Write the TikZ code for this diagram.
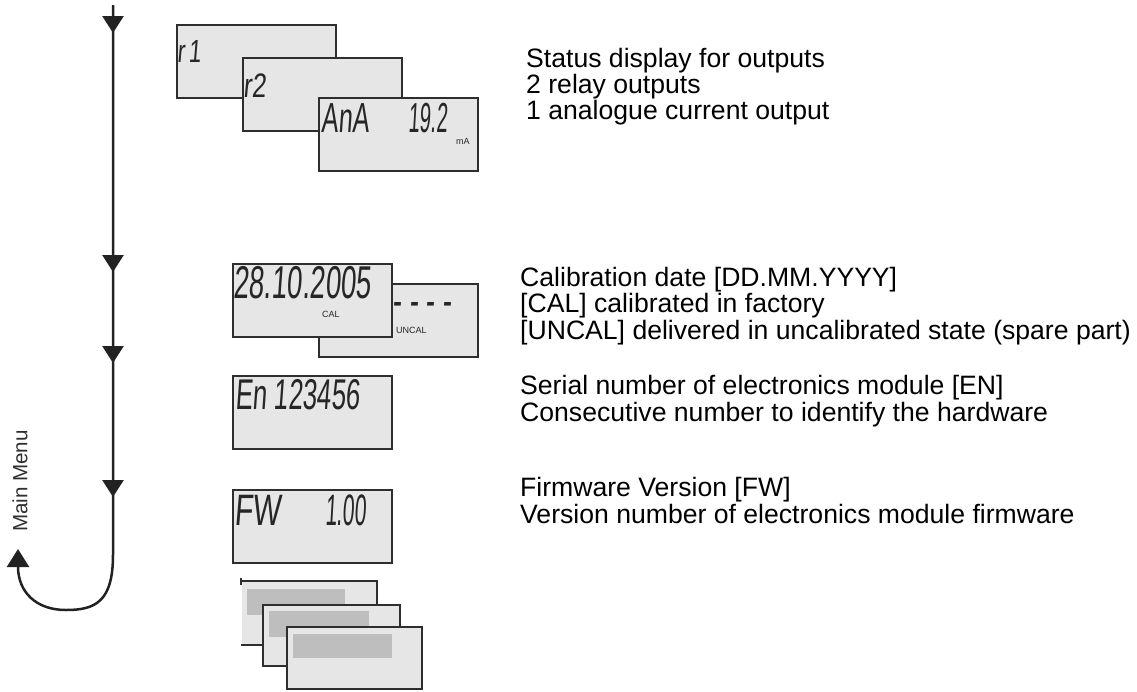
\documentclass[tikz,border=0pt]{standalone}
\usepackage{fontspec}
\usepackage{graphicx}
\setmainfont{Liberation Sans}
\newfontfamily\lcdfont[FakeSlant=0.12]{Liberation Sans}
\usetikzlibrary{arrows.meta,decorations.markings}
\definecolor{lcdfill}{HTML}{E6E6E6}
\definecolor{lcdline}{HTML}{2E2E2E}
\definecolor{lcdtext}{HTML}{262626}
\definecolor{barfill}{HTML}{BEBEBE}
\definecolor{flowline}{HTML}{222222}
\newcommand\lcdtxt[3][0.6]{\scalebox{#1}[1]{\fontsize{#2}{#2}\selectfont #3}}
\tikzset{
  lcdbox/.style={rectangle, draw=lcdline, fill=lcdfill, line width=2pt,
    minimum width=159pt, minimum height=73pt, inner sep=0pt, anchor=north west},
  lcdtext/.style={anchor=base west, inner sep=0pt, text=lcdtext, font=\lcdfont},
  smalllcd/.style={anchor=base west, inner sep=0pt, text=lcdtext, font=\fontsize{9}{9}\selectfont},
  note/.style={anchor=base west, inner sep=0pt, text=black, font=\fontsize{26.6}{27}\selectfont},
  stackbox/.style={rectangle, draw=lcdline, fill=lcdfill, line width=2pt, inner sep=0pt, anchor=north west},
  stackbar/.style={rectangle, fill=barfill, inner sep=0pt, anchor=north west},
  flow/.style={draw=flowline, line width=2.5pt}
}
\begin{document}
\begin{tikzpicture}[x=1pt,y=-1pt]
\useasboundingbox (0,0) rectangle (1137,691);

% flow line
\coordinate (top) at (113,5);
\coordinate (turn) at (113,555);
\coordinate (back) at (18,549);
\draw[flow, -{Triangle[width=22pt,length=18pt]},
  decoration={markings,
    mark=at position 28pt with {\arrow{Triangle[width=21pt,length=17pt]}},
    mark=at position 267pt with {\arrow{Triangle[width=21pt,length=17pt]}},
    mark=at position 358pt with {\arrow{Triangle[width=21pt,length=17pt]}},
    mark=at position 492pt with {\arrow{Triangle[width=21pt,length=17pt]}}},
  postaction={decorate}]
  (top) -- (turn) .. controls (113,602) and (95,610) .. (66,610)
  .. controls (36,610) and (18,592) .. (back);
\node[rotate=90, inner sep=0pt, text=lcdline, font=\fontsize{20.6}{21}\selectfont] (mainmenu) at (20,481) {Main Menu};

% output status displays
\node[lcdbox] (r1) at (176,24) {};
\node[lcdtext] (r1t) at (177,62) {\lcdtxt[0.7]{32}{r\,1}};
\node[lcdbox] (r2) at (242,57) {};
\node[lcdtext] (r2t) at (243,97) {\lcdtxt[0.75]{34}{r2}};
\node[lcdbox] (ana) at (318,97) {};
\node[lcdtext] (anat) at (321,132) {\lcdtxt{42}{AnA}};
\node[lcdtext] (anav) at (408,132) {\lcdtxt[0.48]{42}{19.2}};
\node[smalllcd] (anau) at (456,144) {mA};

% calibration displays
\node[lcdbox] (uncal) at (318,283) {};
\node[lcdtext] (uncald) at (392,316) {\lcdtxt{46}{- - - -}};
\node[smalllcd] (uncalt) at (396,333) {UNCAL};
\node[lcdbox] (cal) at (232,263) {};
\node[lcdtext] (calt) at (233,298) {\lcdtxt{46}{28.10.2005}};
\node[smalllcd] (calu) at (322,317) {CAL};

% serial number
\node[lcdbox] (en) at (232,375) {};
\node[lcdtext] (ent) at (235,409) {\lcdtxt{43}{En 123456}};

% firmware
\node[lcdbox] (fw) at (232,489) {};
\node[lcdtext] (fwt) at (234,525) {\lcdtxt[0.68]{44}{FW}};
\node[lcdtext] (fwv) at (325,525) {\lcdtxt[0.48]{44}{1.00}};

% stacked menu displays
\node[stackbox, draw=none, minimum width=134pt, minimum height=62pt] (s1) at (241,581) {};
\draw[draw=lcdline, line width=2pt] (s1.north west) -- (s1.north east) -- (s1.south east) -- (s1.south west);
\draw[draw=lcdline, line width=2pt] ([yshift=3pt]s1.north west) -- ([yshift=-4pt]s1.north west);
\node[stackbar, minimum width=98pt, minimum height=26pt] (b1) at (247,589) {};
\node[stackbox, minimum width=137pt, minimum height=61pt] (s2) at (262,604) {};
\node[stackbar, minimum width=100pt, minimum height=26pt] (b2) at (269,611) {};
\node[stackbox, minimum width=135pt, minimum height=62pt] (s3) at (286,626) {};
\node[stackbar, minimum width=99pt, minimum height=24pt] (b3) at (293,634) {};

% descriptions
\node[note] (n1) at (526,67) {Status display for outputs};
\node[note] (n2) at (526,93) {2 relay outputs};
\node[note] (n3) at (526,119) {1 analogue current output};
\node[note] (c1) at (520,286) {Calibration date [DD.MM.YYYY]};
\node[note] (c2) at (520,312) {[CAL] calibrated in factory};
\node[note] (c3) at (520,339) {[UNCAL] delivered in uncalibrated state (spare part)};
\node[note] (e1) at (520,394) {Serial number of electronics module [EN]};
\node[note] (e2) at (520,421) {Consecutive number to identify the hardware};
\node[note] (f1) at (520,496) {Firmware Version [FW]};
\node[note] (f2) at (520,523) {Version number of electronics module firmware};
\end{tikzpicture}
\end{document}
